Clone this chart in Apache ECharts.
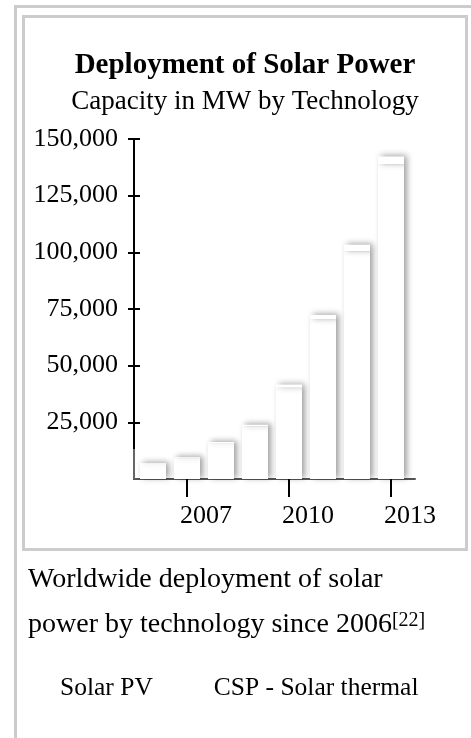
<!DOCTYPE html>
<html>
<head>
<meta charset="utf-8">
<script src="https://cdn.jsdelivr.net/npm/echarts@6/dist/echarts.min.js"></script>
<style>
  html, body { margin: 0; padding: 0; background: #fff; width: 471px; height: 738px; overflow: hidden; }
  .ln { position: absolute; background: #cccccc; }
  #chart { position: absolute; left: 22px; top: 0; width: 446px; height: 738px; }
</style>
</head>
<body>
<div class="ln" style="left:14px;top:5px;width:3px;height:733px;"></div>
<div class="ln" style="left:14px;top:5px;width:457px;height:3px;"></div>
<div class="ln" style="left:22px;top:15px;width:3px;height:536px;"></div>
<div class="ln" style="left:22px;top:15px;width:446px;height:3px;"></div>
<div class="ln" style="left:465px;top:15px;width:3px;height:536px;"></div>
<div class="ln" style="left:22px;top:548px;width:446px;height:3px;"></div>
<div id="chart"></div>
<script>
const years = ['2006', '2007', '2008', '2009', '2010', '2011', '2012', '2013'];
const solarPV = [6660, 9180, 15840, 23190, 40340, 70470, 100500, 138860];
const cspThermal = [350, 430, 480, 740, 1310, 1890, 2850, 3430];
const yTickValues = [25000, 50000, 75000, 100000, 125000, 150000];
const xTickValues = [2007, 2010, 2013];
const seriesNames = ['Solar PV', 'CSP - Solar thermal'];

const FONT = 'Liberation Serif, Times New Roman, serif';
const X_MIN = 2005.44, X_MAX = 2013.706;

function fmt(v) { return String(v).replace(/\B(?=(\d{3})+(?!\d))/g, ','); }

const shadow = { shadowColor: 'rgba(0,0,0,0.38)', shadowBlur: 6, shadowOffsetX: 3, shadowOffsetY: -1 };

const chart = echarts.init(document.getElementById('chart'), null, { renderer: 'canvas' });
chart.setOption({
  animation: false,
  title: [
    { text: 'Deployment of Solar Power', left: 'center', top: 51, padding: 0,
      textStyle: { fontFamily: FONT, fontSize: 29, fontWeight: 'bold', color: '#000' } },
    { text: 'Capacity in MW by Technology', left: 'center', top: 88, padding: 0,
      textStyle: { fontFamily: FONT, fontSize: 27, fontWeight: 'normal', color: '#000' } },
    { text: 'Worldwide deployment of solar', left: 6, top: 566, padding: 0,
      textStyle: { fontFamily: FONT, fontSize: 28, fontWeight: 'normal', color: '#000' } },
    { text: '{a|power by technology since 2006}{s|[22]}', left: 6, top: 611, padding: 0,
      textStyle: { fontFamily: FONT, fontSize: 28, fontWeight: 'normal', color: '#000',
        rich: {
          a: { fontFamily: FONT, fontSize: 28, color: '#000' },
          s: { fontFamily: FONT, fontSize: 20, color: '#000', verticalAlign: 'top' }
        } } }
  ],
  legend: {
    data: seriesNames, left: 19, top: 675, padding: 0, itemGap: 42, itemWidth: 14, itemHeight: 14,
    itemStyle: { opacity: 0 },
    textStyle: { fontFamily: FONT, fontSize: 25.5, color: '#000' },
    selectedMode: false
  },
  grid: [
    { left: 114, width: 272, top: 139, bottom: 259, containLabel: false },
    { left: 112, right: 53, top: 139, bottom: 259, containLabel: false }
  ],
  xAxis: [
    {
      gridIndex: 0, type: 'category', data: years, boundaryGap: true,
      axisLine: { show: false }, axisTick: { show: false }, axisLabel: { show: false }, splitLine: { show: false }
    },
    {
      gridIndex: 1, type: 'value', min: X_MIN, max: X_MAX,
      axisLine: { show: true, onZero: false, lineStyle: { color: '#555', width: 2 } },
      axisTick: { show: true, customValues: xTickValues, length: 18, lineStyle: { color: '#000', width: 2 } },
      axisLabel: { show: true, customValues: xTickValues, margin: 24, fontFamily: FONT, fontSize: 26, color: '#000',
        align: 'left', padding: [0, 0, 0, -7], formatter: v => String(v) },
      splitLine: { show: false }
    }
  ],
  yAxis: [
    {
      gridIndex: 0, type: 'value', min: 0, max: 150000, interval: 25000, show: false
    },
    {
      gridIndex: 1, type: 'value', min: 0, max: 150000, interval: 25000, position: 'left',
      axisLine: { show: true, onZero: false, lineStyle: { color: '#000', width: 2 } },
      axisTick: { show: true, customValues: yTickValues, length: 6, lineStyle: { color: '#000', width: 2 } },
      axisLabel: { show: true, customValues: yTickValues, margin: 16, fontFamily: FONT, fontSize: 26, color: '#000',
        formatter: v => fmt(v) },
      splitLine: { show: false }
    },
    {
      gridIndex: 1, type: 'value', min: 0, max: 150000, interval: 25000, position: 'left', offset: 0,
      axisLine: { show: false },
      axisTick: { show: true, inside: true, customValues: yTickValues, length: 6, lineStyle: { color: '#000', width: 2 } },
      axisLabel: { show: false },
      splitLine: { show: false }
    }
  ],
  series: [
    {
      name: seriesNames[0], type: 'bar', stack: 'total', barWidth: 26, xAxisIndex: 0, yAxisIndex: 0,
      data: solarPV,
      itemStyle: Object.assign({ color: '#ffffff' }, shadow)
    },
    {
      name: seriesNames[1], type: 'bar', stack: 'total', barWidth: 26, xAxisIndex: 0, yAxisIndex: 0,
      data: cspThermal,
      itemStyle: Object.assign({ color: '#ffffff' }, shadow)
    },
    {
      name: 'axis-base', type: 'scatter', xAxisIndex: 1, yAxisIndex: 1, data: [], silent: true,
      markLine: {
        silent: true, symbol: ['none', 'none'], label: { show: false },
        lineStyle: { color: '#666', width: 2, type: 'solid' },
        data: [[{ coord: [X_MIN, 0] }, { coord: [X_MIN, 13200] }]]
      }
    }
  ]
});
</script>
</body>
</html>
